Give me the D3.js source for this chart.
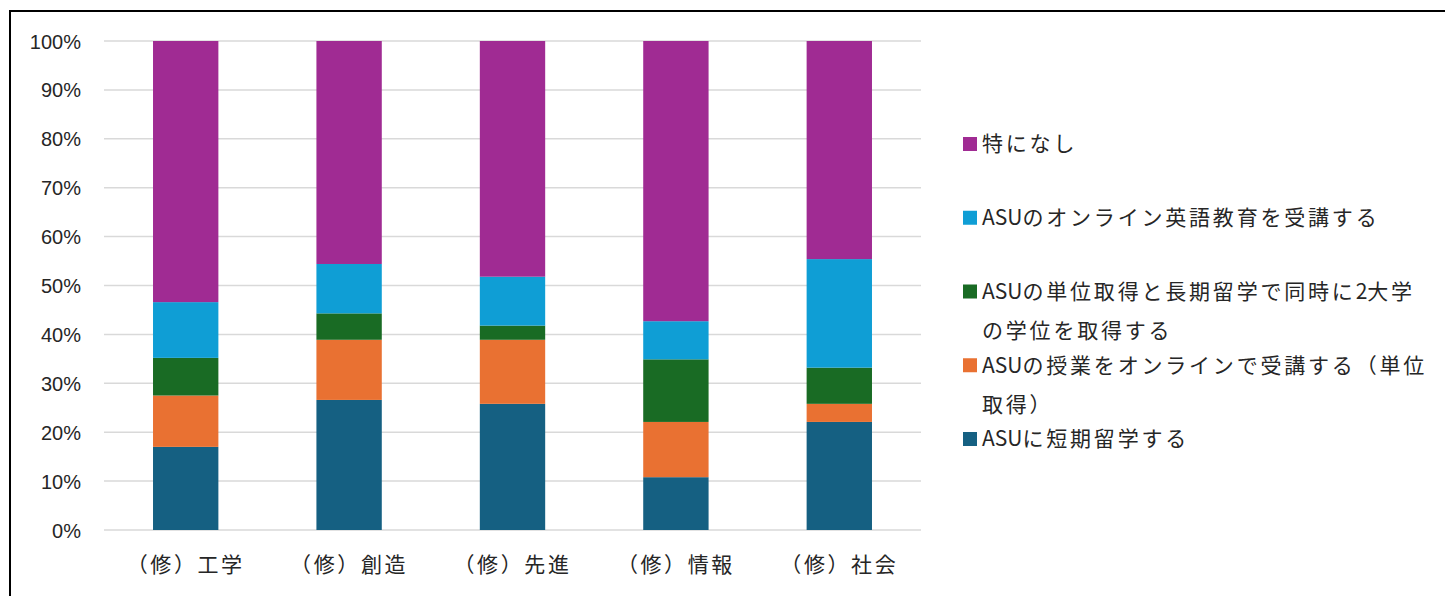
<!DOCTYPE html>
<html><head><meta charset="utf-8">
<script src="https://cdn.jsdelivr.net/npm/d3@7"></script>
<style>
html,body{margin:0;padding:0;background:#fff;}
svg{display:block;}
</style></head>
<body>
<svg id="chart" width="1445" height="596"></svg>
<script>
// ---- data ----
const categories = ["（修）工学","（修）創造","（修）先進","（修）情報","（修）社会"];
const seriesNames = [
  "ASUに短期留学する",
  "ASUの授業をオンラインで受講する（単位\n取得）",
  "ASUの単位取得と長期留学で同時に2大学\nの学位を取得する",
  "ASUのオンライン英語教育を受講する",
  "特になし"
];
const shortTermStudy   = [17.0, 26.6, 25.8, 10.8, 22.1];
const onlineClasses    = [10.5, 12.3, 13.1, 11.3, 3.7];
const dualDegree       = [7.7, 5.4, 2.9, 12.8, 7.4];
const onlineEnglish    = [11.4, 10.1, 10.0, 7.8, 22.2];
const nothingInPart    = [53.4, 45.6, 48.2, 57.3, 44.6];
const seriesColors = ["#156082","#E97132","#196B24","#0F9ED5","#A02B93"];
const yTicks = [0,10,20,30,40,50,60,70,80,90,100];

// ---- build table ----
const seriesValues = [shortTermStudy, onlineClasses, dualDegree, onlineEnglish, nothingInPart];
const keys = seriesNames.map((_, i) => "s" + i);
const table = categories.map((c, ci) => {
  const row = {cat: c};
  keys.forEach((k, si) => row[k] = seriesValues[si][ci]);
  return row;
});
const stacked = d3.stack().keys(keys)(table);

const svg = d3.select("#chart");
const plot = {left: 104, right: 921, top: 41, bottom: 530};

// border
svg.append("rect").attr("x", 10).attr("y", 11).attr("width", 1500).attr("height", 700)
  .attr("fill", "none").attr("stroke", "#000").attr("stroke-width", 2);

const x = d3.scaleBand().domain(categories).range([plot.left, plot.right]).paddingInner(0.6).paddingOuter(0.3);
const y = d3.scaleLinear().domain([0, 100]).range([plot.bottom, plot.top]);

// gridlines
svg.append("g").selectAll("line").data(yTicks).join("line")
  .attr("x1", plot.left).attr("x2", plot.right)
  .attr("y1", d => y(d)).attr("y2", d => y(d))
  .attr("stroke", "#d9d9d9").attr("stroke-width", 1.5);

// y axis labels via d3 axis
const yAxis = d3.axisLeft(y).tickValues(yTicks).tickFormat(d => d + "%").tickSize(0).tickPadding(0);
const yg = svg.append("g").attr("transform", `translate(${81},0)`).call(yAxis);
yg.select(".domain").remove();
yg.selectAll("text").attr("font-family", "'Liberation Sans', Arial, sans-serif")
  .attr("font-size", 20).attr("fill", "#262626").attr("dy", "0.35em");

// bars
svg.append("g").selectAll("g").data(stacked).join("g")
  .attr("fill", (d, i) => seriesColors[i])
  .selectAll("rect").data(d => d).join("rect")
  .attr("x", d => x(d.data.cat))
  .attr("width", x.bandwidth())
  .attr("y", d => y(d[1]))
  .attr("height", d => y(d[0]) - y(d[1]));

// x axis labels
const xAxis = d3.axisBottom(x).tickSize(0).tickPadding(0);
const xg = svg.append("g").attr("transform", `translate(0,${565})`).call(xAxis);
xg.select(".domain").remove();
xg.selectAll("text").attr("font-family", "'Noto Sans CJK JP', sans-serif")
  .attr("font-size", 21).attr("fill", "#262626").attr("dy", "0.35em")
  .attr("letter-spacing", "2.6px");

// legend (top to bottom reversed series order)
const legendOrder = d3.range(seriesNames.length).reverse();
const lg = svg.append("g");
legendOrder.forEach((si, k) => {
  const cy = 144 + k * 73.75;
  lg.append("rect").attr("x", 963).attr("y", cy - 7).attr("width", 14).attr("height", 14)
    .attr("fill", seriesColors[si]);
  const lines = seriesNames[si].split("\n");
  lines.forEach((ln, li) => {
    const t = lg.append("text").attr("x", 982).attr("y", cy + li * 39).attr("dy", "0.35em")
      .attr("font-family", "'Noto Sans CJK JP', sans-serif").attr("font-size", 21)
      .attr("fill", "#262626");
    const runs = ln.match(/[A-Za-z0-9]+|[^A-Za-z0-9]+/g);
    runs.forEach(r => {
      t.append("tspan").attr("letter-spacing", /[A-Za-z0-9]/.test(r) ? "0px" : "2.8px").text(r);
    });
  });
});
</script>
</body></html>
